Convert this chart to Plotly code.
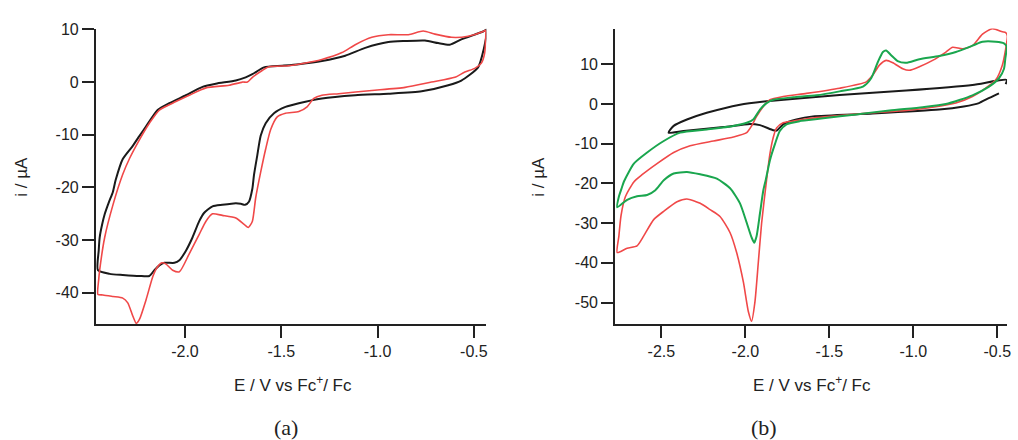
import plotly.graph_objects as go

# ---------------- data ----------------
# Panel (a)
a_black_E = [-0.432, -0.449, -0.478, -0.565, -0.633, -0.771, -0.944, -1.116, -1.289, -1.409,
             -1.478, -1.538, -1.581, -1.607, -1.625, -1.642, -1.650, -1.668, -1.688, -1.710,
             -1.736, -1.806, -1.857, -1.900, -1.926, -1.961, -1.995, -2.029, -2.055, -2.107,
             -2.133, -2.159, -2.185, -2.236, -2.323, -2.391, -2.452,
             -2.448, -2.443, -2.430, -2.417, -2.395, -2.374, -2.360, -2.323, -2.271, -2.236,
             -2.202, -2.142, -2.081, -1.995, -1.909, -1.840, -1.736, -1.685, -1.650, -1.590,
             -1.495, -1.409, -1.289, -1.168, -1.064, -0.944, -0.857, -0.754, -0.685, -0.625,
             -0.565, -0.452, -0.432]
a_black_i = [10.0, 6.2, 2.8, 0.3, -0.6, -1.75, -2.2, -2.5, -3.1, -4.0,
             -4.7, -5.9, -7.8, -10.2, -14.0, -17.7, -20.2, -22.7, -23.3, -23.1,
             -23.0, -23.3, -23.6, -24.8, -26.4, -29.5, -32.0, -33.8, -34.3, -34.3,
             -34.8, -35.7, -36.8, -36.8, -36.6, -36.4, -35.7,
             -32.0, -29.5, -27.0, -25.1, -22.8, -20.8, -18.6, -14.6, -12.1, -10.2,
             -8.4, -5.3, -4.0, -2.5, -0.9, -0.3, 0.3, 0.9, 1.5, 2.8,
             3.1, 3.4, 4.0, 5.0, 6.5, 7.6, 7.8, 7.9, 7.4, 7.1,
             8.1, 9.6, 10.0]

a_red_E = [-0.437, -0.444, -0.461, -0.495, -0.547, -0.599, -0.720, -0.857, -1.030, -1.202,
           -1.289, -1.331, -1.366, -1.409, -1.478, -1.521, -1.555, -1.581, -1.607, -1.633,
           -1.650, -1.671, -1.693, -1.736, -1.806, -1.857, -1.891, -1.926, -1.978, -2.029,
           -2.064, -2.100, -2.120, -2.145, -2.167, -2.202, -2.236, -2.253, -2.271, -2.297,
           -2.323, -2.374, -2.426, -2.452,
           -2.448, -2.443, -2.417, -2.374, -2.323, -2.288, -2.236, -2.185, -2.133, -2.047,
           -1.978, -1.891, -1.771, -1.702, -1.676, -1.650, -1.599, -1.564, -1.461, -1.409,
           -1.289, -1.185, -1.116, -1.030, -0.944, -0.840, -0.763, -0.702, -0.616, -0.530,
           -0.452, -0.437]
a_red_i = [9.8, 5.5, 3.6, 2.6, 1.9, 0.9, 0.0, -1.0, -1.6, -2.2,
           -2.5, -3.1, -4.7, -5.6, -5.9, -6.6, -9.0, -12.7, -17.1, -22.0,
           -26.4, -27.6, -27.0, -25.8, -25.3, -25.0, -26.4, -28.9, -32.6, -36.0,
           -35.7, -34.5, -34.3, -35.2, -36.9, -41.3, -45.0, -45.8, -44.4, -41.9,
           -41.0, -40.7, -40.4, -40.3,
           -37.5, -35.7, -29.5, -23.3, -17.5, -14.5, -10.9, -7.8, -5.3, -3.7,
           -2.5, -1.1, -0.6, 0.0, 0.0, 0.9, 2.2, 2.9, 3.1, 3.4,
           4.3, 5.6, 7.1, 8.5, 9.0, 9.0, 9.7, 9.1, 8.5, 8.7,
           9.6, 9.9]

# Panel (b)
b_black_E = [-0.490, -0.560, -0.609, -0.700, -0.846, -1.241, -1.597, -1.696, -1.775, -1.814,
             -1.834, -1.913, -1.973, -2.130, -2.368, -2.457, -2.427, -2.348, -2.230, -2.032,
             -1.874, -1.439, -1.043, -0.648, -0.444, -0.450]
b_black_i = [2.7, 1.3, 0.25, -0.6, -1.4, -2.4, -3.1, -3.9, -5.1, -6.7,
             -6.6, -5.3, -5.0, -5.8, -6.8, -7.2, -5.5, -3.9, -2.2, -0.15,
             0.7, 2.3, 3.4, 4.8, 6.1, 5.0]

b_red_E = [-0.440, -0.450, -0.470, -0.509, -0.569, -0.648, -0.747, -0.885, -1.043, -1.241,
           -1.439, -1.636, -1.715, -1.775, -1.814, -1.834, -1.854, -1.874, -1.903, -1.923,
           -1.943, -1.963, -1.982, -2.012, -2.052, -2.091, -2.151, -2.210, -2.269, -2.348,
           -2.407, -2.486, -2.546, -2.605, -2.645, -2.704, -2.763,
           -2.753, -2.740, -2.714, -2.664, -2.615, -2.526, -2.427, -2.329, -2.190, -2.071,
           -1.992, -1.963, -1.933, -1.893, -1.854, -1.775, -1.636, -1.439, -1.280, -1.241,
           -1.202, -1.162, -1.122, -1.063, -1.024, -0.964, -0.885, -0.806, -0.766, -0.707,
           -0.648, -0.588, -0.529, -0.470, -0.450, -0.440]
b_red_i = [17.2, 13.9, 9.8, 6.1, 4.0, 1.9, 0.25, -0.8, -1.6, -2.2,
           -2.9, -3.7, -4.3, -4.7, -6.0, -8.4, -12.6, -19.2, -29.9, -39.9,
           -49.8, -54.7, -52.3, -44.8, -37.4, -32.4, -28.3, -26.6, -25.0, -23.9,
           -24.6, -27.0, -29.1, -33.2, -35.7, -36.3, -37.4,
           -33.2, -28.0, -23.3, -19.6, -17.8, -15.0, -12.2, -10.5, -9.3, -8.3,
           -7.2, -5.5, -3.1, -0.6, 1.1, 1.9, 2.7, 4.0, 5.6, 7.3,
           9.8, 11.0, 10.4, 8.9, 8.5, 9.4, 11.0, 13.1, 14.3, 13.9,
           14.7, 17.6, 19.0, 18.2, 18.0, 17.2]

b_green_E = [-0.444, -0.452, -0.460, -0.490, -0.549, -0.648, -0.806, -0.944, -1.142, -1.340,
             -1.537, -1.636, -1.676, -1.755, -1.795, -1.824, -1.854, -1.878, -1.893, -1.913,
             -1.933, -1.947, -1.963, -1.992, -2.032, -2.091, -2.170, -2.269, -2.348, -2.427,
             -2.486, -2.536, -2.585, -2.645, -2.704, -2.763,
             -2.753, -2.735, -2.723, -2.664, -2.585, -2.486, -2.388, -2.230, -2.071, -1.992,
             -1.953, -1.913, -1.874, -1.834, -1.715, -1.577, -1.439, -1.300, -1.251, -1.211,
             -1.181, -1.162, -1.132, -1.093, -1.043, -0.964, -0.846, -0.747, -0.648, -0.588,
             -0.509, -0.460, -0.444]
b_green_i = [14.5, 11.5, 8.9, 6.5, 4.4, 2.2, 0.0, -0.8, -1.6, -2.6,
             -3.6, -4.1, -4.3, -5.1, -6.8, -10.1, -14.2, -19.0, -21.7, -27.5,
             -33.2, -34.9, -33.6, -29.9, -25.0, -21.2, -18.8, -17.7, -17.1, -17.5,
             -19.2, -21.7, -22.9, -23.2, -24.1, -26.0,
             -23.3, -21.0, -19.5, -15.0, -12.2, -9.3, -7.2, -6.4, -5.5, -4.7,
             -3.9, -1.4, 0.25, 1.1, 1.7, 2.2, 3.2, 4.4, 6.5, 10.6,
             13.1, 13.5, 12.3, 10.8, 10.4, 11.3, 12.1, 13.1, 14.7, 15.7,
             15.7, 15.3, 14.5]

a_xticks = [-2.0, -1.5, -1.0, -0.5]
a_xtext = ["-2.0", "-1.5", "-1.0", "-0.5"]
a_yticks = [10, 0, -10, -20, -30, -40]
a_ytext = ["10", "0", "-10", "-20", "-30", "-40"]
b_xticks = [-2.5, -2.0, -1.5, -1.0, -0.5]
b_xtext = ["-2.5", "-2.0", "-1.5", "-1.0", "-0.5"]
b_yticks = [10, 0, -10, -20, -30, -40, -50]
b_ytext = ["10", "0", "-10", "-20", "-30", "-40", "-50"]

# ---------------- figure ----------------
W, H = 1018, 440
BLACK = "#1a1a1a"
RED = "#f04848"
GREEN = "#1aa64e"
FONT = "Liberation Sans, Arial, sans-serif"

fig = go.Figure()

def add(x, y, color, width, xa, ya):
    fig.add_trace(go.Scatter(x=x, y=y, mode="lines", xaxis=xa, yaxis=ya,
                             line=dict(color=color, width=width, shape="spline", smoothing=0.6),
                             showlegend=False, hoverinfo="skip"))

add(a_black_E, a_black_i, BLACK, 2, "x", "y")
add(a_red_E, a_red_i, RED, 1.6, "x", "y")
add(b_black_E, b_black_i, BLACK, 2, "x2", "y2")
add(b_red_E, b_red_i, RED, 1.6, "x2", "y2")
add(b_green_E, b_green_i, GREEN, 2, "x2", "y2")

ydom = [1 - 322.3 / H, 1 - 21 / H]
axis_common = dict(showline=True, linecolor="#222", linewidth=1.5, ticks="outside",
                   ticklen=12, tickwidth=1.5, tickcolor="#222", showgrid=False, zeroline=False,
                   tickfont=dict(family=FONT, size=16, color="#222"), tickmode="array")

fig.update_layout(
    width=W, height=H,
    margin=dict(l=0, r=0, t=0, b=0),
    paper_bgcolor="white", plot_bgcolor="white",
    xaxis=dict(domain=[96 / W, 488.3 / W], range=[-2.464, -0.435], anchor="y",
               tickvals=a_xticks, ticktext=a_xtext, **axis_common),
    yaxis=dict(domain=ydom, range=[-46.0, 10.15], anchor="x",
               tickvals=a_yticks, ticktext=a_ytext, **axis_common),
    xaxis2=dict(domain=[617.3 / W, 1011 / W], range=[-2.777, -0.442], anchor="y2",
                tickvals=b_xticks, ticktext=b_xtext, **axis_common),
    yaxis2=dict(domain=ydom, range=[-55.5, 19.0], anchor="x2",
                tickvals=b_yticks, ticktext=b_ytext, **axis_common),
)

def ann(text, px, py, size=17, family=FONT, angle=0):
    fig.add_annotation(text=text, x=px / W, y=1 - py / H, xref="paper", yref="paper",
                       showarrow=False, textangle=angle,
                       font=dict(family=family, size=size, color="#222"),
                       xanchor="center", yanchor="middle")

ann("i / µA", 22, 172, angle=-90)
ann("i / µA", 541, 172, angle=-90)
ann("E / V vs Fc<sup>+</sup>/ Fc", 294.5, 383)
ann("E / V vs Fc<sup>+</sup>/ Fc", 815.7, 383)
ann("(a)", 287, 427, size=22, family="Liberation Serif, Times New Roman, serif")
ann("(b)", 767, 427, size=22, family="Liberation Serif, Times New Roman, serif")

fig.write_html("out.html", config={"displayModeBar": False},
               post_script="document.body.style.margin='0';document.body.style.padding='0';")
